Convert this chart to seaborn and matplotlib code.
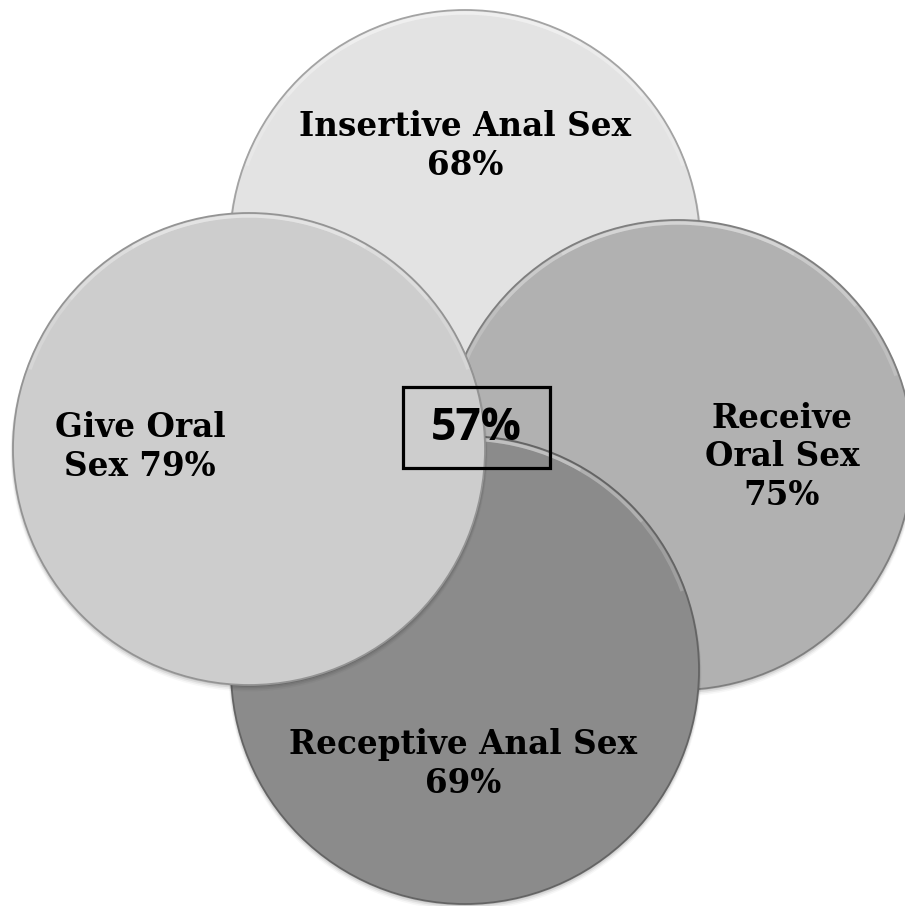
import matplotlib
matplotlib.use("Agg")
import matplotlib.pyplot as plt
from matplotlib.patches import Circle, Arc, Rectangle
import seaborn as sns

# Share of respondents reporting each sexual practice
categories = ["Insertive Anal Sex", "Give Oral Sex", "Receive Oral Sex", "Receptive Anal Sex"]
percents = [68, 79, 75, 69]
label_formats = ["Insertive Anal Sex\n{}%", "Give Oral\nSex {}%",
                 "Receive\nOral Sex\n{}%", "Receptive Anal Sex\n{}%"]
overlap_percent = 57

sns.set_theme(style="white")
shades = sns.color_palette(["#e3e3e3", "#cdcdcd", "#b1b1b1", "#8b8b8b"])

# layout in pixel units (y grows downward)
centers = [(465, 245), (249, 449), (678, 455), (465, 670)]
radii = [235, 236, 235, 234]
label_pos = [(465, 146), (140, 447), (782, 457), (463, 764)]
zorders = [1, 4, 2, 3]

fig = plt.figure(figsize=(9.05, 9.06), dpi=100)
ax = fig.add_axes([0, 0, 1, 1])
ax.set_xlim(0, 905)
ax.set_ylim(906, 0)
ax.set_aspect("equal")
ax.axis("off")


def darker(c, f):
    return tuple(max(0, v * f) for v in c)


for (cx, cy), r, col, z in zip(centers, radii, shades, zorders):
    # soft drop shadow
    for k, a in zip(range(1, 5), [0.10, 0.07, 0.05, 0.03]):
        ax.add_patch(Circle((cx, cy + k), r + k * 0.6, facecolor="black",
                            edgecolor="none", alpha=a, zorder=z))
    ax.add_patch(Circle((cx, cy), r, facecolor=col,
                        edgecolor=darker(col, 0.72), linewidth=1.3, zorder=z + 0.1))
    # faint bevel highlight along the upper rim
    for dt, a in [(0, 0.18), (20, 0.18), (40, 0.2)]:
        ax.add_patch(Arc((cx, cy), 2 * (r - 3), 2 * (r - 3), theta1=200 + dt,
                         theta2=340 - dt, color="white", alpha=a, linewidth=2.4,
                         zorder=z + 0.2))

for fmt, p, (x, y) in zip(label_formats, percents, label_pos):
    ax.text(x, y, fmt.format(p), ha="center", va="center", multialignment="center",
            fontsize=23.5, fontweight="bold", family="DejaVu Serif",
            color="black", linespacing=1.2, zorder=10)

# intersection of all four practices
ax.text(476, 428, f"{overlap_percent}%", ha="center", va="center",
        fontsize=32, fontweight="bold", family="Open Sans", color="black", zorder=11)
ax.add_patch(Rectangle((403, 387), 147, 81, fill=False, edgecolor="black",
                       linewidth=2.3, zorder=11))

fig.savefig("out.png", dpi=100, facecolor="white")
